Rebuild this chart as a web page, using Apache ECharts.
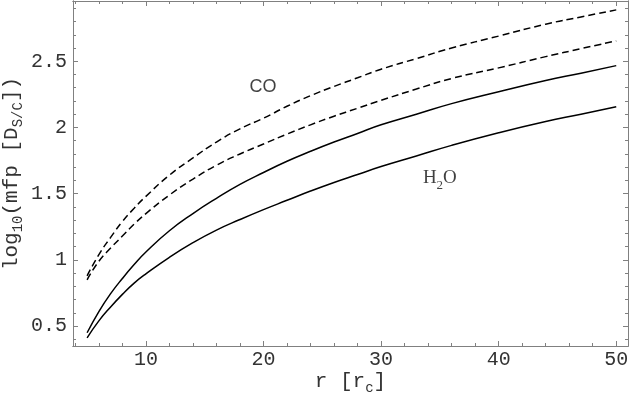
<!DOCTYPE html>
<html>
<head>
<meta charset="utf-8">
<script src="https://cdn.jsdelivr.net/npm/echarts@6/dist/echarts.min.js"></script>
<style>
  html, body { margin: 0; padding: 0; background: #fff; }
  #chart { width: 632px; height: 393px; }
</style>
</head>
<body>
<div id="chart"></div>
<script>
  // radius in units of r_c
  var radius = [5, 6, 7, 8, 9, 10, 12, 14, 16, 18, 20, 22, 24, 26, 28, 30, 33, 36, 40, 44, 47, 50];

  // log10 mfp
  var coUpper = [0.88, 1.04, 1.17, 1.29, 1.39, 1.48, 1.64, 1.77, 1.89, 1.99, 2.07, 2.16, 2.24, 2.31, 2.375, 2.44, 2.52, 2.60, 2.69, 2.78, 2.835, 2.888];
  var coLower = [0.85, 0.99, 1.09, 1.18, 1.27, 1.35, 1.49, 1.61, 1.715, 1.80, 1.875, 1.95, 2.02, 2.085, 2.145, 2.205, 2.29, 2.37, 2.45, 2.535, 2.595, 2.654];
  var h2oUpper = [0.45, 0.61, 0.745, 0.86, 0.965, 1.06, 1.22, 1.35, 1.465, 1.57, 1.66, 1.745, 1.82, 1.89, 1.955, 2.02, 2.10, 2.18, 2.27, 2.355, 2.41, 2.467];
  var h2oLower = [0.412, 0.54, 0.645, 0.74, 0.825, 0.895, 1.02, 1.13, 1.225, 1.305, 1.38, 1.45, 1.52, 1.585, 1.645, 1.705, 1.785, 1.865, 1.96, 2.045, 2.10, 2.157];

  var xMajor = [10, 20, 30, 40, 50];
  var xMinor = [4, 6, 8, 12, 14, 16, 18, 22, 24, 26, 28, 32, 34, 36, 38, 42, 44, 46, 48, 50];
  var yMajor = [0.5, 1, 1.5, 2, 2.5];
  var yMinor = [0.4, 0.6, 0.7, 0.8, 0.9, 1.1, 1.2, 1.3, 1.4, 1.6, 1.7, 1.8, 1.9, 2.1, 2.2, 2.3, 2.4, 2.6, 2.7, 2.8, 2.9];

  var coLabel = [19.95, 2.306];
  var h2oLabel = [35.0, 1.60];

  function pairs(ys) {
    return radius.map(function (r, i) { return [r, ys[i]]; });
  }

  var frameColor = '#808080';
  var textColor = '#333';
  var mono = '"Liberation Mono", "DejaVu Sans Mono", monospace';

  function xAxisDef(pos, ticks, len, labels) {
    return {
      type: 'value', position: pos, min: 3.8, max: 51,
      axisLine: { show: true, lineStyle: { color: frameColor, width: 1 } },
      axisTick: { show: true, inside: true, length: len, customValues: ticks, lineStyle: { color: frameColor } },
      axisLabel: labels ? { show: true, customValues: ticks, margin: 4, fontFamily: mono, fontSize: 20, color: textColor } : { show: false },
      splitLine: { show: false }
    };
  }
  function yAxisDef(pos, ticks, len, labels) {
    return {
      type: 'value', position: pos, min: 0.35, max: 2.955,
      axisLine: { show: true, lineStyle: { color: frameColor, width: 1 } },
      axisTick: { show: true, inside: true, length: len, customValues: ticks, lineStyle: { color: frameColor } },
      axisLabel: labels ? { show: true, customValues: ticks, margin: 6, fontFamily: mono, fontSize: 20, color: textColor } : { show: false },
      splitLine: { show: false }
    };
  }

  var nameRich = {
    n: { fontFamily: mono, fontSize: 21, color: textColor, verticalAlign: 'bottom', padding: [0, 0, 3, 0] },
    s: { fontFamily: mono, fontSize: 14, color: textColor, verticalAlign: 'bottom' }
  };

  var chart = echarts.init(document.getElementById('chart'));

  var xMain = xAxisDef('bottom', xMajor, 5, true);
  xMain.name = '{n|r [r}{s|c}{n|]}';
  xMain.nameLocation = 'middle';
  xMain.nameGap = 25;
  xMain.nameMoveOverlap = false;
  xMain.nameTextStyle = { rich: nameRich };

  var yMain = yAxisDef('left', yMajor, 5, true);
  yMain.name = '{n|log}{s|10}{n|(mfp [D}{s|S/C}{n|])}';
  yMain.nameLocation = 'middle';
  yMain.nameGap = 48;
  yMain.nameMoveOverlap = false;
  yMain.nameTextStyle = { rich: nameRich };

  var lineStyleSolid = { color: '#000', width: 1.5, type: 'solid' };
  var lineStyleDash = { color: '#000', width: 1.5, type: [7, 4] };

  chart.setOption({
    animation: false,
    backgroundColor: '#fff',
    grid: { left: 73, right: 4, top: 1, bottom: 47, outerBoundsMode: 'none' },
    xAxis: [
      xMain,
      xAxisDef('bottom', xMinor, 3, false),
      xAxisDef('top', xMajor, 5, false),
      xAxisDef('top', xMinor, 3, false)
    ],
    yAxis: [
      yMain,
      yAxisDef('left', yMinor, 3, false),
      yAxisDef('right', yMajor, 5, false),
      yAxisDef('right', yMinor, 3, false)
    ],
    series: [
      { type: 'line', data: pairs(coUpper), showSymbol: false, smooth: true, lineStyle: lineStyleDash },
      { type: 'line', data: pairs(coLower), showSymbol: false, smooth: true, lineStyle: lineStyleDash },
      { type: 'line', data: pairs(h2oUpper), showSymbol: false, smooth: true, lineStyle: lineStyleSolid },
      { type: 'line', data: pairs(h2oLower), showSymbol: false, smooth: true, lineStyle: lineStyleSolid },
      {
        type: 'scatter', symbolSize: 0, data: [coLabel],
        label: { show: true, position: 'inside', formatter: 'CO',
          fontFamily: '"Liberation Sans", Arial, sans-serif', fontSize: 18, color: '#111' }
      },
      {
        type: 'scatter', symbolSize: 0, data: [h2oLabel],
        label: { show: true, position: 'inside', formatter: '{n|H}{s|2}{n|O}',
          rich: {
            n: { fontFamily: '"Liberation Serif", serif', fontSize: 19, color: '#111', verticalAlign: 'bottom', padding: [0, 0, 4, 0] },
            s: { fontFamily: '"Liberation Serif", serif', fontSize: 13, color: '#111', verticalAlign: 'bottom' }
          }
        }
      }
    ]
  });
</script>
</body>
</html>
